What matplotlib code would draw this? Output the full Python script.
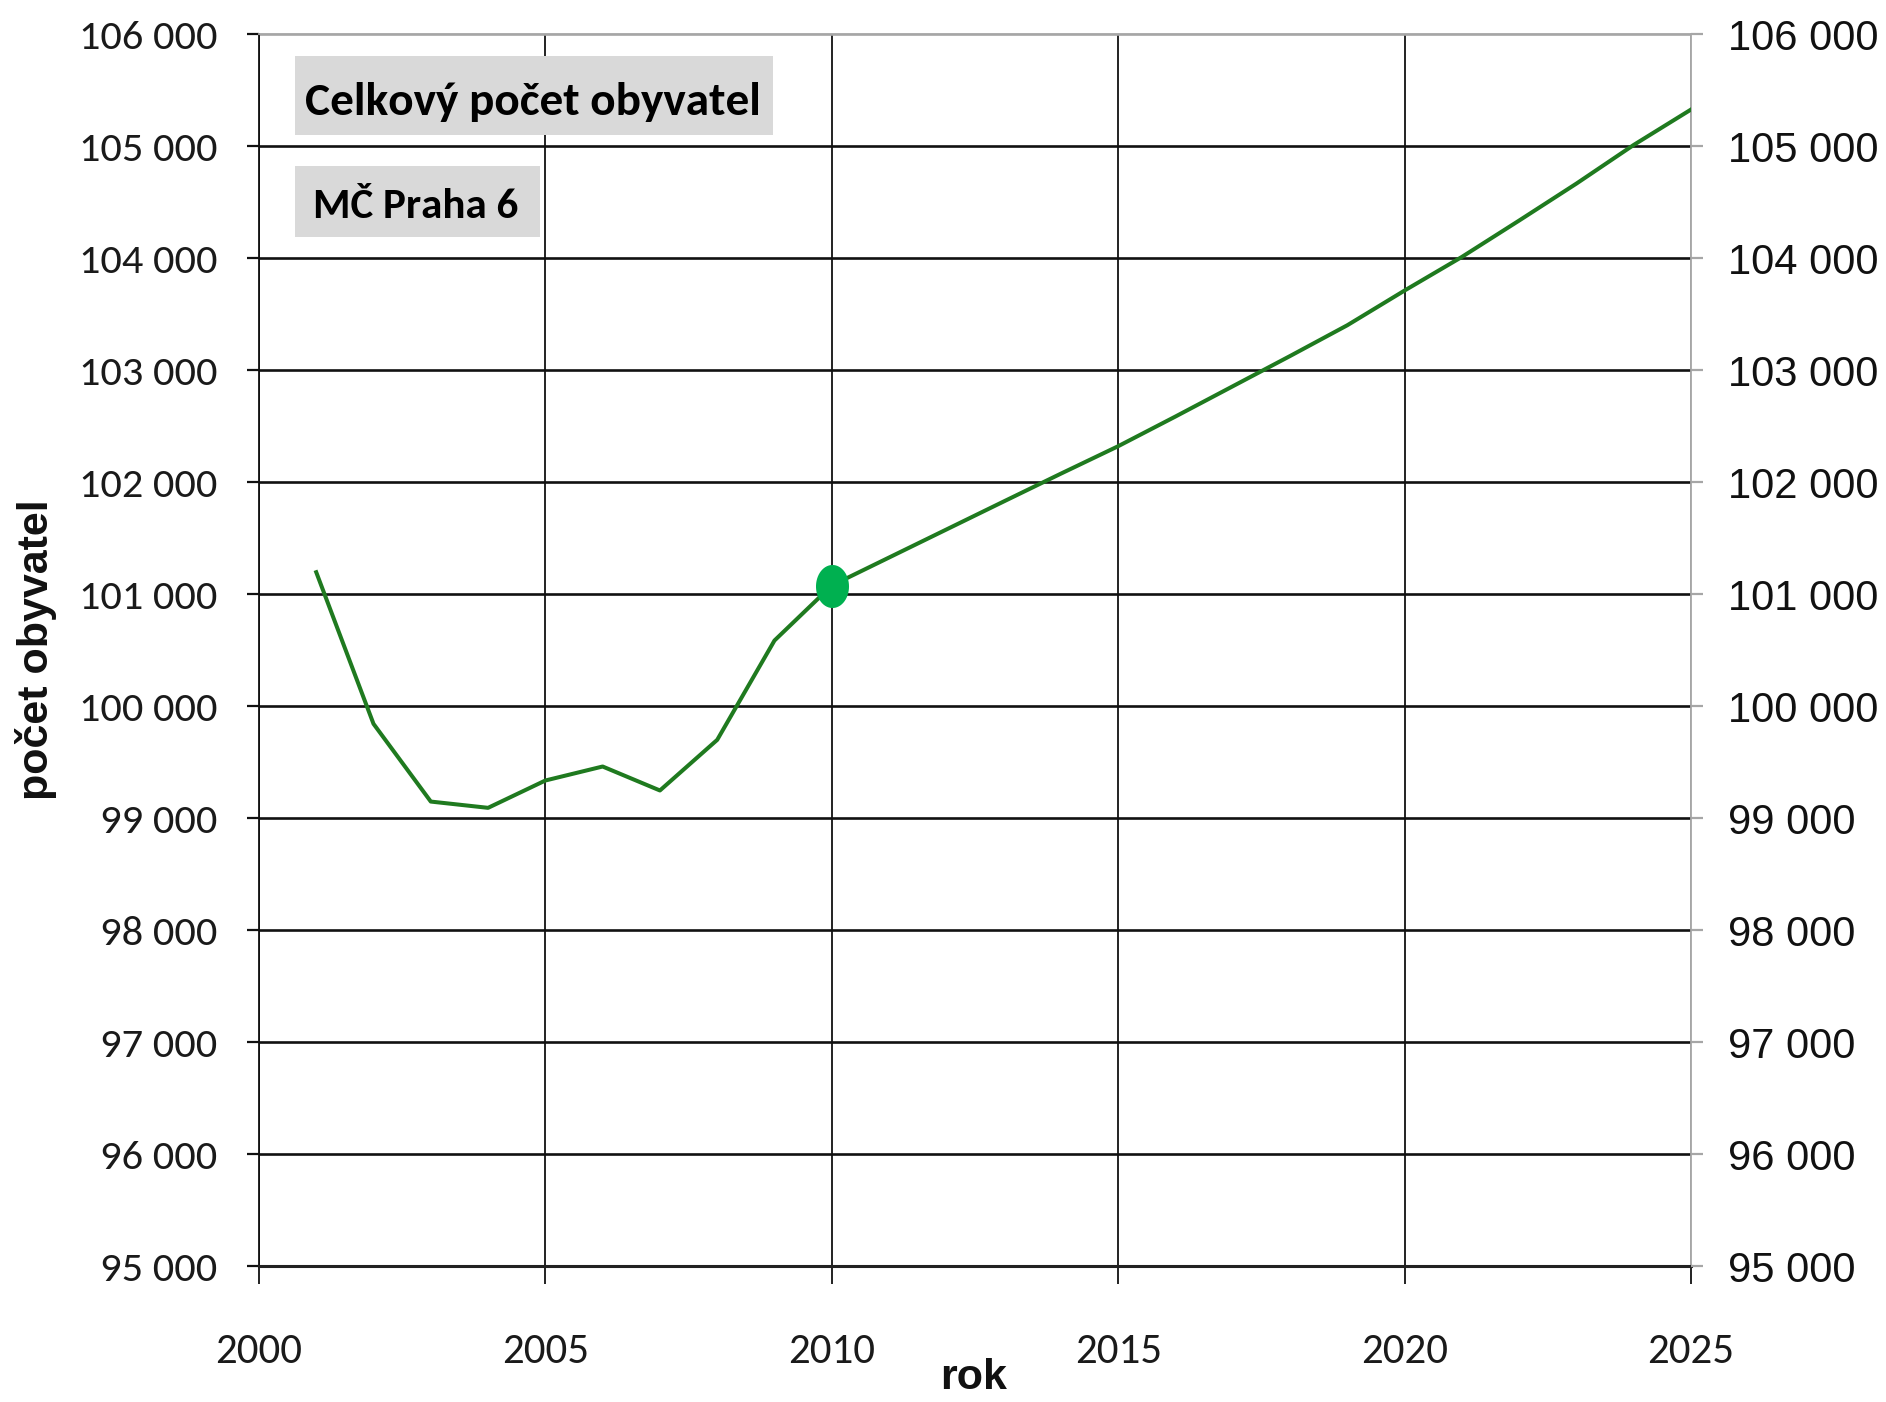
import numpy as np
import matplotlib
matplotlib.use("Agg")
import matplotlib.pyplot as plt
from matplotlib.patches import Rectangle
from matplotlib.path import Path
from matplotlib.ticker import FuncFormatter

# population of MČ Praha 6 (observed 2001-2010, projection 2010-2025)
years = [2001, 2002, 2003, 2004, 2005, 2006, 2007, 2008, 2009, 2010,
         2011, 2012, 2013, 2014, 2015, 2016, 2017, 2018, 2019, 2020,
         2021, 2022, 2023, 2024, 2025]
population = [101195, 99841, 99147, 99091, 99335, 99460, 99246, 99698, 100585, 101076,
              101326, 101576, 101826, 102075, 102320, 102585, 102855, 103125, 103400, 103710,
              104010, 104335, 104665, 105010, 105326]
marker_year = 2010
marker_value = 101076

x_ticks = [2000, 2005, 2010, 2015, 2020, 2025]
y_ticks = list(range(95000, 106001, 1000))

title_text = "Celkový počet obyvatel"
subtitle_text = "MČ Praha 6"
y_label = "počet obyvatel"
x_label = "rok"

# Calibri-like face if there is one, else Arial metrics
narrow = ["Carlito", "Liberation Sans Narrow", "Liberation Sans"]
wide = ["Liberation Sans", "DejaVu Sans"]


def fmt_thousands(v, pos):
    return f"{int(v):,}".replace(",", " ")


fig = plt.figure(figsize=(18.86, 14.02), dpi=100)
ax = fig.add_axes([0.1373, 0.097, 0.8966 - 0.1373, 0.9757 - 0.097])

ax.plot(years, population, color="#1f7a1f", lw=2.9, zorder=3)

# ellipse shaped marker (the source picture is squeezed sideways)
t = np.linspace(0, 2 * np.pi, 60)
ell = Path(np.column_stack([0.767 * np.cos(t), np.sin(t)]), closed=True)
ax.plot([marker_year], [marker_value], marker=ell, markersize=31, color="#00b050",
        markeredgewidth=0, linestyle="none", zorder=4)

ax.set_xlim(2000, 2025)
ax.set_ylim(95000, 106000)
ax.set_xticks(x_ticks)
ax.set_yticks(y_ticks)
ax.yaxis.set_major_formatter(FuncFormatter(fmt_thousands))

ax.grid(True, axis="y", color="#111111", lw=1.9)
ax.grid(True, axis="x", color="#111111", lw=1.3)
ax.set_axisbelow(True)
ax.get_ygridlines()[-1].set_color("#a6a6a6")
ax.get_xgridlines()[-1].set_color("#a6a6a6")

for s in ["top", "right"]:
    ax.spines[s].set_color("#a6a6a6")
    ax.spines[s].set_linewidth(1.3)
ax.spines["left"].set_color("#111111")
ax.spines["left"].set_linewidth(1.3)
ax.spines["bottom"].set_color("#222222")
ax.spines["bottom"].set_linewidth(2.2)

ax.tick_params(axis="y", direction="out", length=8.6, width=1.6, color="#111111", pad=21.6)
ax.tick_params(axis="x", direction="out", length=13, width=1.3, color="#111111", pad=35)
for lab in ax.get_yticklabels():
    lab.set_fontfamily(narrow)
    lab.set_fontsize(30.5)
    lab.set_color("#1a1a1a")
for lab in ax.get_xticklabels():
    lab.set_fontfamily(narrow)
    lab.set_fontsize(31)
    lab.set_color("#1a1a1a")

# right hand axis with the same scale
ax2 = ax.twinx()
ax2.set_ylim(ax.get_ylim())
ax2.set_yticks(y_ticks)
ax2.yaxis.set_major_formatter(FuncFormatter(fmt_thousands))
for s in ["top", "right", "left", "bottom"]:
    ax2.spines[s].set_visible(False)
ax2.tick_params(axis="y", direction="out", length=8.6, width=1.6, color="#a6a6a6", pad=18)
for lab in ax2.get_yticklabels():
    lab.set_fontfamily(wide)
    lab.set_fontsize(30)
    lab.set_color("#111111")

# axis titles
fig.text(0.019, 0.5367, y_label, rotation=90, ha="center", va="center",
         fontfamily=wide, fontweight="bold", fontsize=31, color="#111111")
fig.text(974 / 1886, 0.003, x_label, ha="center", va="bottom",
         fontfamily=wide, fontweight="bold", fontsize=31, color="#111111")

# grey label boxes
fig.patches.append(Rectangle((295 / 1886, 1 - 135 / 1402), 478 / 1886, 79 / 1402,
                             transform=fig.transFigure, facecolor="#d9d9d9",
                             edgecolor="none", zorder=5))
fig.patches.append(Rectangle((295 / 1886, 1 - 237 / 1402), 245 / 1886, 71 / 1402,
                             transform=fig.transFigure, facecolor="#d9d9d9",
                             edgecolor="none", zorder=5))
fig.text(533 / 1886, 1 - 115 / 1402, title_text, ha="center", va="baseline",
         fontfamily=narrow, fontweight="bold", fontsize=34, color="#000000", zorder=6)
fig.text(416 / 1886, 1 - 218 / 1402, subtitle_text, ha="center", va="baseline",
         fontfamily=narrow, fontweight="bold", fontsize=31, color="#000000", zorder=6)

fig.savefig("out.png", dpi=100)
